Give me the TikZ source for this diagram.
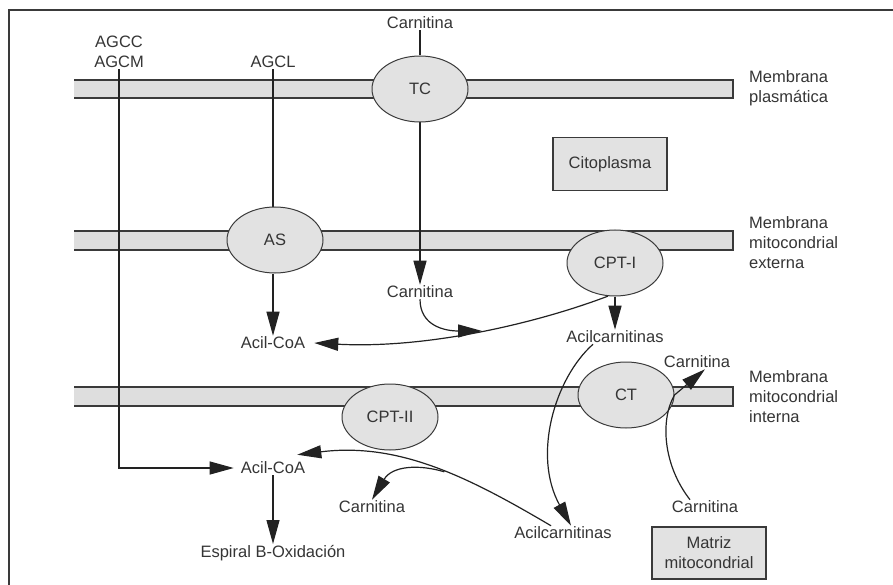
\documentclass[tikz,border=0pt]{standalone}
\usepackage{fontspec}
\setmainfont{Liberation Sans}
\usetikzlibrary{arrows.meta,shapes.geometric}
\definecolor{edge}{HTML}{3A3A3A}
\definecolor{bandfill}{HTML}{DEDEDE}
\definecolor{enzfill}{HTML}{E2E2E2}
\definecolor{txt}{HTML}{353535}
\definecolor{linec}{HTML}{222222}
\begin{document}
\begin{tikzpicture}[x=1pt,y=-1pt,
  every node/.style={font=\fontsize{16.5}{20}\selectfont, text=txt},
  lbl/.style={inner sep=1pt},
  bandline/.style={draw=edge, line width=1.3pt},
  enz/.style={ellipse, draw=edge, fill=enzfill, line width=1pt, minimum width=96pt, minimum height=66pt, inner sep=0pt},
  boxx/.style={draw=edge, fill=enzfill, line width=1.3pt},
  conn/.style={draw=linec, line width=1.2pt},
  arr/.style={conn, -{Triangle[length=24pt,width=13pt]}},
]
\useasboundingbox (0,0) rectangle (893,585);
% frame
\draw[edge, line width=1.5pt] (9,585) -- (9,10) -- (893,10);

% membranes
\foreach \ya/\yb in {80/98, 231/250, 387/406}{
  \fill[bandfill] (74,\ya) rectangle (733,\yb);
  \draw[bandline] (74,\ya) -- (733,\ya) -- (733,\yb) -- (74,\yb);
}

% labels
\node[lbl] (carTop) at (420,23) {Carnitina};
\node[lbl, align=center] (agcc) at (119,52) {AGCC\\AGCM};
\node[lbl] (agcl) at (273,62) {AGCL};
\node[lbl] (car1) at (420,292) {Carnitina};
\node[lbl] (acil1) at (273,343) {Acil-CoA};
\node[lbl] (acar1) at (615,337) {Acilcarnitinas};
\node[lbl] (car2) at (697,362) {Carnitina};
\node[lbl] (acil2) at (273,468) {Acil-CoA};
\node[lbl] (car3) at (372,507) {Carnitina};
\node[lbl] (car4) at (705,507) {Carnitina};
\node[lbl] (acar2) at (563,533) {Acilcarnitinas};
\node[lbl] (esp) at (273,553) {Espiral B-Oxidación};
\node[boxx, minimum width=114pt, minimum height=53pt] (cito) at (610,164) {Citoplasma};
\node[boxx, minimum width=114pt, minimum height=52pt, align=center, inner sep=1pt] (matriz) at (709,553) {Matriz\\mitocondrial};
\node[lbl, anchor=west, align=left] (m1) at (748,88) {Membrana\\plasmática};
\node[lbl, anchor=west, align=left] (m2) at (748,243) {Membrana\\mitocondrial\\externa};
\node[lbl, anchor=west, align=left] (m3) at (748,397) {Membrana\\mitocondrial\\interna};

% straight connectors (under enzymes)
\draw[arr] (agcc.south) |- ([xshift=-6pt]acil2.west);
\draw[conn] (agcl.south) -- (273,215);
\draw[arr] (420,100) -- (car1.north);

% enzymes
\node[enz] (TC) at (420,89) {TC};
\node[enz] (AS) at (275,240) {AS};
\node[enz] (CPT1) at (615,263) {CPT-I};
\node[enz] (CT) at (626,395) {CT};
\node[enz] (CPT2) at (390,417) {CPT-II};

\draw[conn] (carTop.south) -- (TC.north);
\draw[arr] (AS.south -| acil1.north) -- (acil1.north);
\draw[arr] (CPT1.south) -- (acar1.north);

% CPT-I -> Acil-CoA (cytosol)
\draw[arr] (CPT1.258) .. controls (540,322) and (430,349) .. coordinate[pos=0.49] (j1) ([xshift=8pt]acil1.east);
\draw[arr] (car1.south) .. controls (420,326) and (445,331) .. (j1);

% Acilcarnitinas -> Acilcarnitinas (matrix)
\draw[arr] ([xshift=-22pt]acar1.south) .. controls (555,378) and (532,455) .. ([xshift=8pt]acar2.north);

% CPT-II: Acilcarnitinas -> Acil-CoA
\draw[arr] ([xshift=-12pt]acar2.north) .. controls (470,478) and (400,442) .. coordinate[pos=0.45] (j2) ([shift={(-9,-6)}]acil2.north east);
\draw[arr] (j2) .. controls (418,464) and (392,466) .. (car3.north);

% CT: Carnitina -> Carnitina
\draw[arr] ([xshift=-15pt]car4.north) .. controls (663,465) and (660,420) .. (CT.east) -- ([xshift=8pt]car2.south);

% Acil-CoA -> beta oxidation
\draw[arr] (acil2.south) -- (esp.north);
\end{tikzpicture}
\end{document}
